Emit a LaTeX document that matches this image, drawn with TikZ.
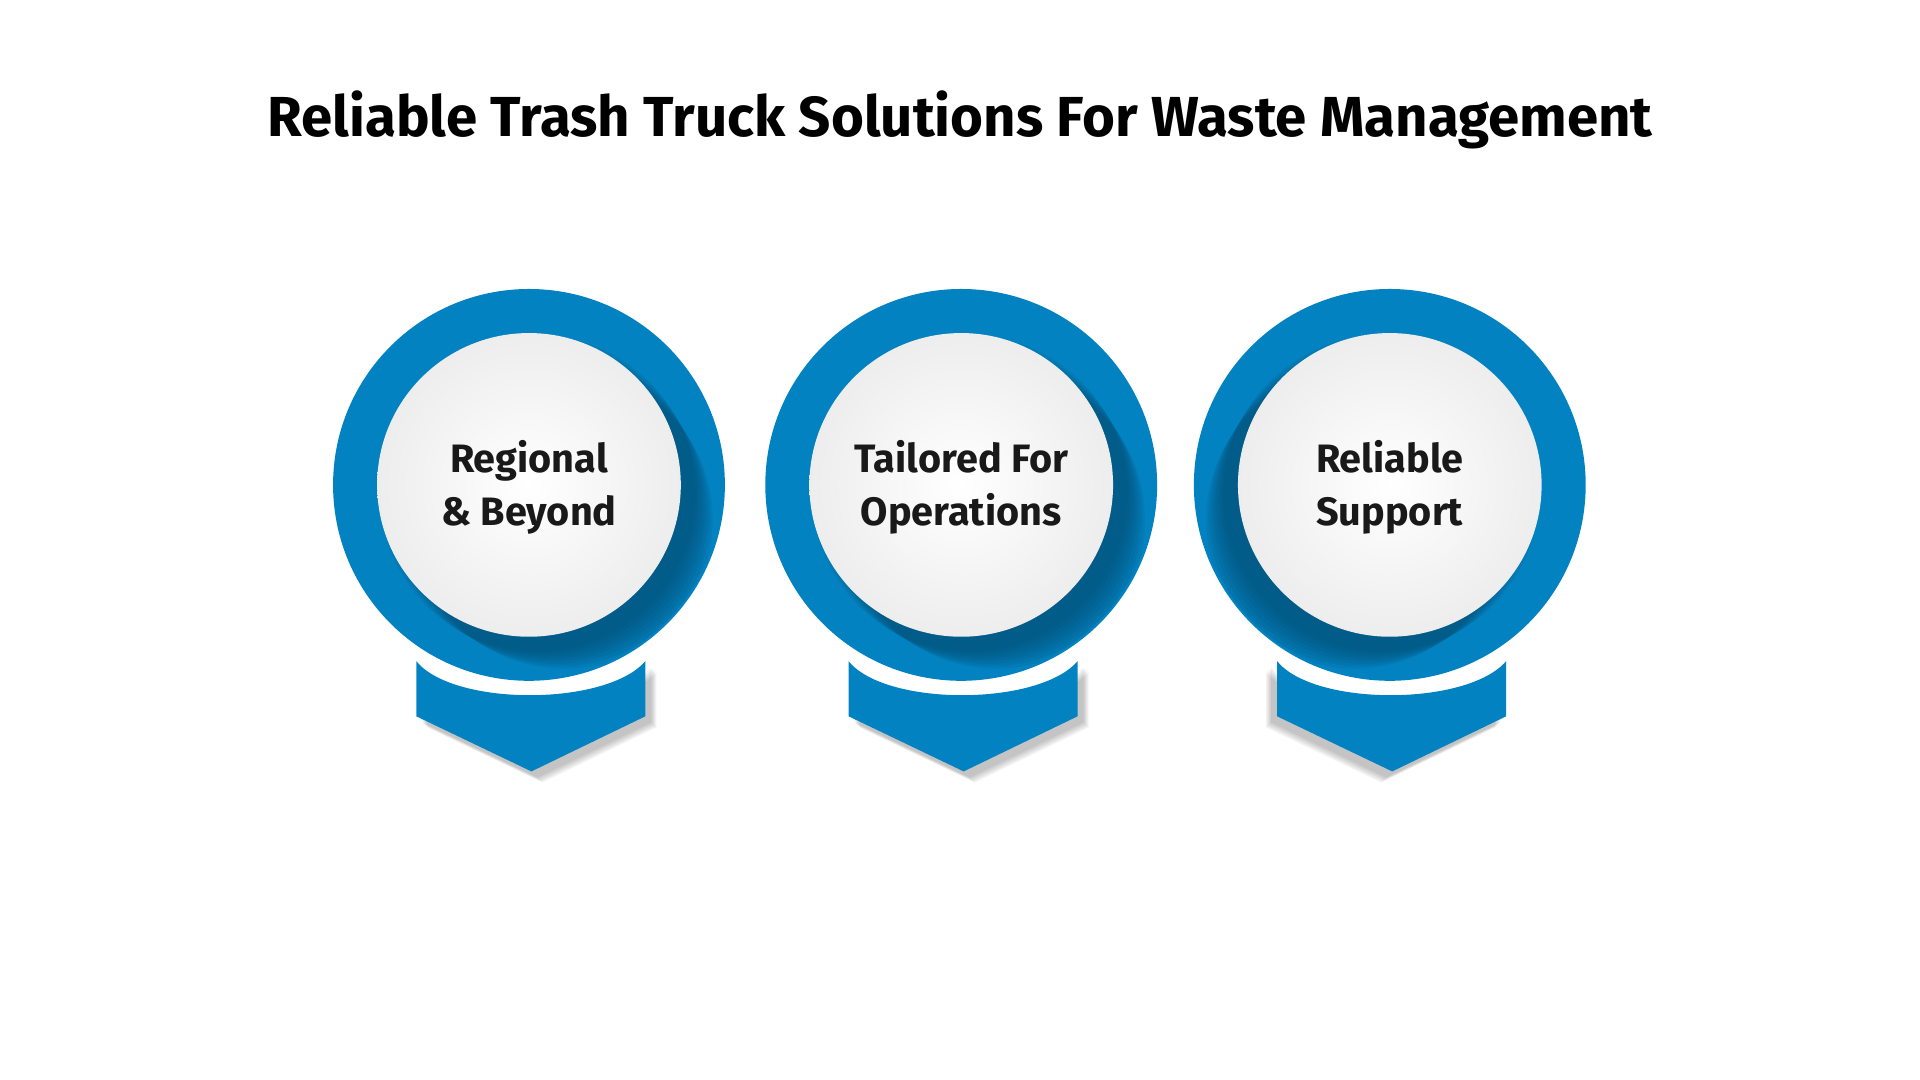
\documentclass[tikz,border=0pt]{standalone}
\usepackage{fontspec}
\setmainfont{Fira Sans}
\definecolor{tblue}{HTML}{0382C1}
\definecolor{tdark}{HTML}{024A6E}
\begin{document}
\begin{tikzpicture}[x=0.01cm,y=-0.01cm,
  lbl/.style={font=\fontsize{9.2pt}{12.5pt}\selectfont\bfseries\color{black!90}, align=center},
]
\useasboundingbox (0,0) rectangle (1568,882);
\node (title) at (784,98) {\fontsize{13.1pt}{16pt}\selectfont\bfseries Reliable Trash Truck Solutions For Waste Management};
\foreach \cx/\sx/\txt/\nm in {432/1/{Regional\\\& Beyond}/a, 785/1/{Tailored For\\Operations}/b, 1135/-1/{Reliable\\Support}/c}{
  % chevron shadow
  \foreach \k in {1,...,5}{
    \fill[black, opacity=0.05] ({\cx-92+\sx*(4+\k)},{540+4+\k}) .. controls ({\cx-62+\sx*(4+\k)},{577+4+\k}) and ({\cx+63+\sx*(4+\k)},{577+4+\k}) .. ({\cx+95+\sx*(4+\k)},{540+4+\k}) -- ({\cx+95+\sx*(4+\k)},{585+4+\k}) -- ({\cx+2+\sx*(4+\k)},{630+4+\k}) -- ({\cx-92+\sx*(4+\k)},{585+4+\k}) -- cycle;
  }
  \fill[tblue] (\cx-92,540) .. controls (\cx-62,577) and (\cx+63,577) .. (\cx+95,540) -- (\cx+95,585) -- (\cx+2,630) -- (\cx-92,585) -- cycle;
  \fill[tblue] (\cx,396) circle (160);
  \begin{scope}
    \clip (\cx,396) circle (158);
    \foreach \k in {1,...,8}{
      \fill[tdark, opacity=0.12] ({\cx+\sx*(4+3*\k)},{396+4+3*\k}) circle ({124+6-\k});
    }
  \end{scope}
  \shade[inner color=white, outer color=black!7] (\cx,396) circle (124);
  \node[lbl] (\nm) at (\cx,398) {\txt};
}
\end{tikzpicture}
\end{document}
